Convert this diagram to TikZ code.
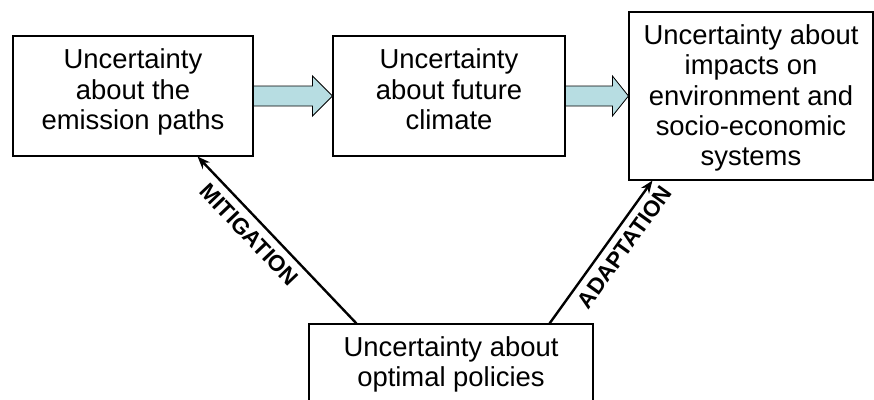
\documentclass[tikz,border=0pt]{standalone}
\usepackage{fontspec}
\setmainfont{Liberation Sans}
\usepackage{tikz}
\usetikzlibrary{calc, arrows.meta}
\usetikzlibrary{positioning}
\definecolor{arrowblue}{RGB}{183,221,226}

\begin{document}
\begin{tikzpicture}[
    box/.style={rectangle, draw, line width=0.8pt},
    txt/.style={align=center, inner sep=0pt, font=\fontsize{19.5}{21.6}\selectfont},
    fatarrow/.style={draw, line width=0.6pt, fill=arrowblue},
    thinarrow/.style={line width=1.7pt, -{Stealth[length=9pt, width=7pt]}},
    tag/.style={font=\bfseries\fontsize{16}{16}\selectfont, sloped, below, inner sep=5pt}
]
    \useasboundingbox (0,0) rectangle (21.85,9.975);

    \node[box, minimum width=6cm, minimum height=3cm] (emission) at (3.325,7.575) {};
    \node[box, minimum width=5.8cm, minimum height=3cm] (climate) at (11.225,7.575) {};
    \node[box, minimum width=6.1cm, minimum height=4.2cm] (impacts) at (18.775,7.575) {};
    \node[box, minimum width=7.1cm, minimum height=1.95cm] (policy) at (11.275,0.9) {};

    \node[txt, below=0.33cm of emission.north] (emission-text) {Uncertainty\\about the\\emission paths};
    \node[txt, below=0.33cm of climate.north] (climate-text) {Uncertainty\\about future\\climate};
    \node[txt, below=0.32cm of impacts.north] (impacts-text) {Uncertainty about\\impacts on\\environment and\\socio-economic\\systems};
    \node[txt, below=0.32cm of policy.north] (policy-text) {Uncertainty about\\optimal policies};

    % block arrows between the top boxes
    \draw[fatarrow] ($(emission.east)+(0,0.25)$) -- ($(climate.west)+(-0.5,0.25)$) -- ($(climate.west)+(-0.5,0.5)$) -- (climate.west)
        -- ($(climate.west)+(-0.5,-0.5)$) -- ($(climate.west)+(-0.5,-0.25)$) -- ($(emission.east)+(0,-0.25)$) -- cycle;
    \draw[fatarrow] ($(climate.east)+(0,0.25)$) -- ($(impacts.west)+(-0.4,0.25)$) -- ($(impacts.west)+(-0.4,0.5)$) -- (impacts.west)
        -- ($(impacts.west)+(-0.4,-0.5)$) -- ($(impacts.west)+(-0.4,-0.25)$) -- ($(climate.east)+(0,-0.25)$) -- cycle;

    \draw[thinarrow] ($(policy.north west)+(1.2,0)$) -- node[tag, pos=0.6] {MITIGATION} ($(emission.south east)+(-1.4,0)$);
    \draw[thinarrow] ($(policy.north east)+(-1.1,0)$) -- node[tag, pos=0.6] {ADAPTATION} ($(impacts.south west)+(0.6,0)$);
\end{tikzpicture}
\end{document}
